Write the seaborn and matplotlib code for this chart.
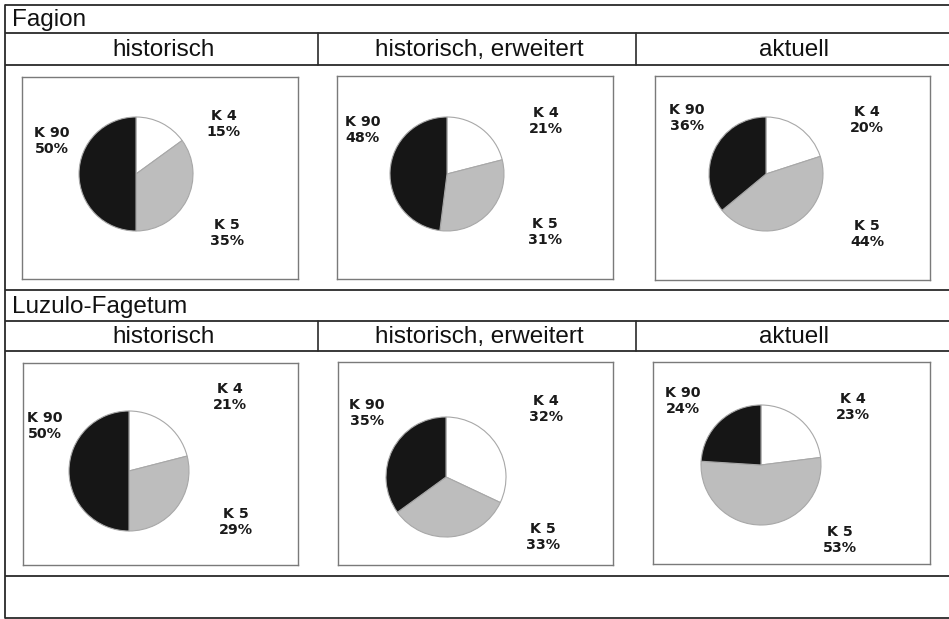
import matplotlib
matplotlib.use("Agg")
import matplotlib.pyplot as plt
import seaborn as sns

sns.set_theme(style="white")
plt.rcParams["font.family"] = ["Liberation Sans", "DejaVu Sans"]

# --- data -------------------------------------------------------------
groups = ["Fagion", "Luzulo-Fagetum"]
periods = ["historisch", "historisch, erweitert", "aktuell"]
classes = ["K 4", "K 5", "K 90"]
fagion_shares = [[15, 35, 50], [21, 31, 48], [20, 44, 36]]
luzulo_shares = [[21, 29, 50], [32, 33, 35], [23, 53, 24]]
shares = [fagion_shares, luzulo_shares]

# --- layout (figure pixels, y measured downward) ----------------------
W, H = 949, 619
row_lines = [5, 33, 65, 290, 321, 351, 576, 618]
col_seps = [318, 636]
header_rows = [(33, 65), (321, 351)]
title_rows = [(5, 33), (290, 321)]

panel_boxes = [
    [(22, 77, 298, 279), (337, 76, 613, 279), (655, 76, 930, 280)],
    [(23, 363, 298, 565), (338, 362, 613, 565), (653, 362, 930, 564)],
]
pie_centres = [
    [(136, 174), (447, 174), (766, 174)],
    [(129, 471), (446, 477), (761, 465)],
]
pie_radius = [57, 60]
label_pos = [
    [[(224, 124), (227, 233), (52, 141)],
     [(546, 121), (545, 232), (363, 130)],
     [(867, 120), (867, 234), (687, 118)]],
    [[(230, 397), (236, 522), (45, 426)],
     [(546, 409), (543, 537), (367, 413)],
     [(853, 407), (840, 540), (683, 401)]],
]

colors = sns.color_palette(["#ffffff", "#bdbdbd", "#161616"])
line_col = "#2a2a2a"

fig = plt.figure(figsize=(W / 100, H / 100), dpi=100)
fig.patch.set_facecolor("white")

# background axes in pixel coordinates for the table grid
bg = fig.add_axes([0, 0, 1, 1])
bg.set_xlim(0, W)
bg.set_ylim(H, 0)
bg.axis("off")

for y in row_lines:
    bg.plot([5, W], [y, y], color=line_col, lw=1.3, solid_capstyle="butt")
bg.plot([5, 5], [5, 618], color=line_col, lw=1.3)
for (y0, y1) in header_rows:
    for x in col_seps:
        bg.plot([x, x], [y0, y1], color=line_col, lw=1.2)

col_centres = [(5 + col_seps[0]) / 2, (col_seps[0] + col_seps[1]) / 2,
               (col_seps[1] + W) / 2]
for g, (y0, y1) in enumerate(title_rows):
    bg.text(12, (y0 + y1) / 2 + 1, groups[g], fontsize=17.5, color="#111111",
            ha="left", va="center")
for (y0, y1) in header_rows:
    for c, name in enumerate(periods):
        bg.text(col_centres[c] + 2, (y0 + y1) / 2 + 1, name, fontsize=17.5,
                color="#111111", ha="center", va="center")

# one axes per pie panel; data units equal pixels so the pies stay round
for g in range(len(groups)):
    for c in range(len(periods)):
        x0, y0, x1, y1 = panel_boxes[g][c]
        w, h = x1 - x0, y1 - y0
        ax = fig.add_axes([x0 / W, 1 - y1 / H, w / W, h / H])
        cx, cy = pie_centres[g][c]
        ax.pie(shares[g][c], colors=colors, startangle=90, counterclock=False,
               radius=pie_radius[g], center=(cx - x0, y1 - cy), frame=True,
               wedgeprops=dict(edgecolor="#a8a8a8", linewidth=0.8))
        ax.set_xlim(0, w)
        ax.set_ylim(0, h)
        ax.set_xticks([])
        ax.set_yticks([])
        for sp in ax.spines.values():
            sp.set_visible(True)
            sp.set_color("#7a7a7a")
            sp.set_linewidth(1.0)
        for k, cls in enumerate(classes):
            lx, ly = label_pos[g][c][k]
            ax.text(lx - x0, y1 - ly, f"{cls}\n{shares[g][c][k]}%",
                    family="DejaVu Sans", fontweight="bold", fontsize=10.3,
                    color="#1a1a1a", ha="center", va="center",
                    multialignment="center", linespacing=1.1)

fig.savefig("out.png", dpi=100, facecolor="white")
